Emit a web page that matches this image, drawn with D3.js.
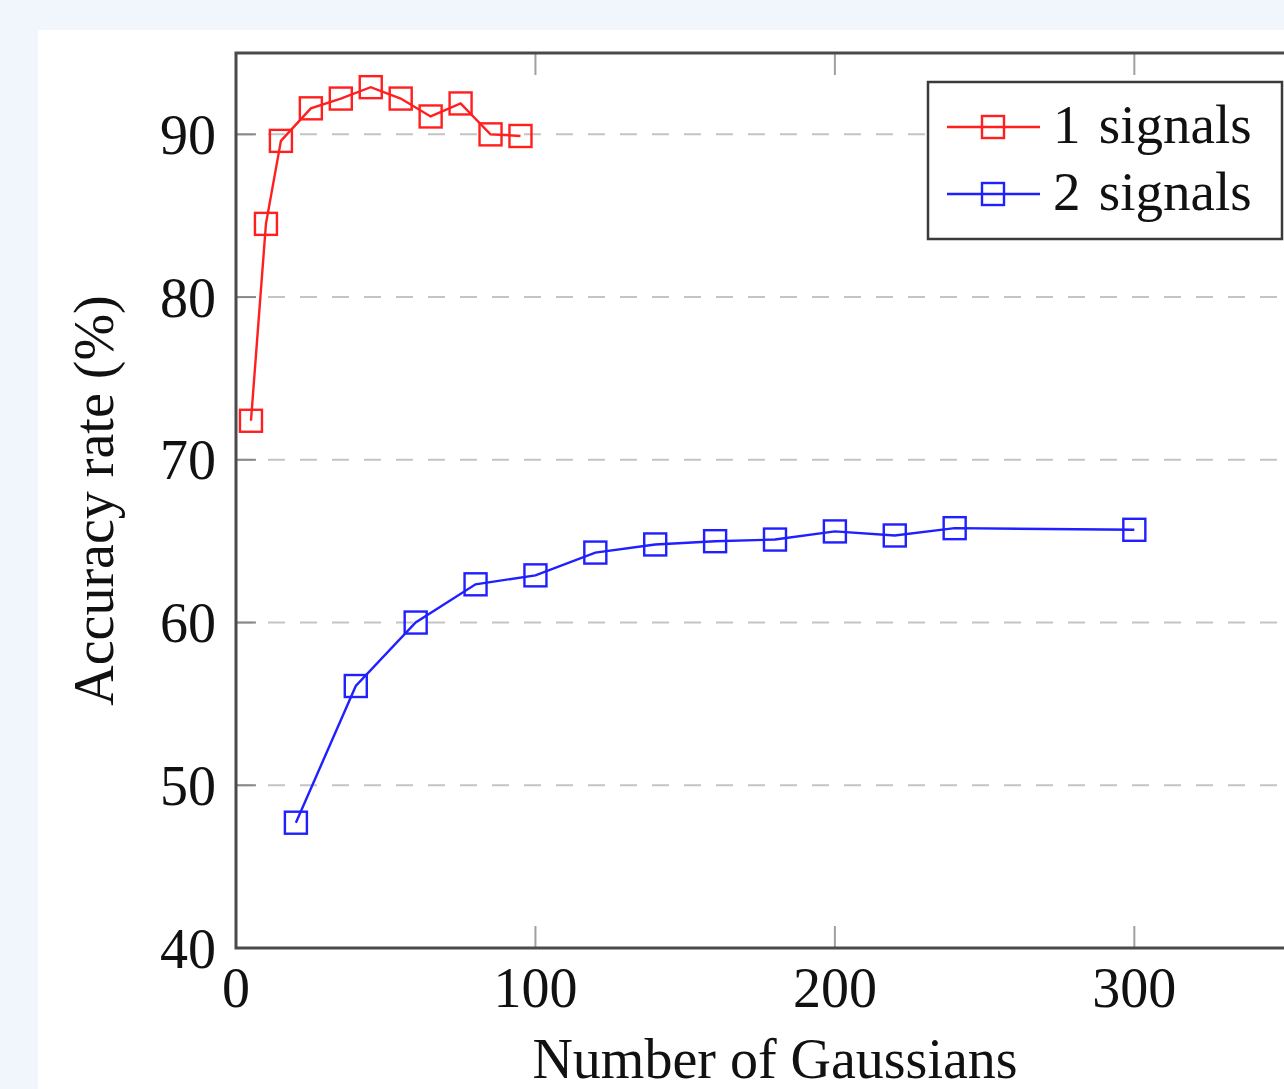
<!DOCTYPE html>
<html>
<head>
<meta charset="utf-8">
<script src="https://cdnjs.cloudflare.com/ajax/libs/d3/7.8.5/d3.min.js"></script>
<style>
  body { margin: 0; background: #f1f6fd; overflow: hidden; }
</style>
</head>
<body>
<script>
// data
var gaussians1 = [5, 10, 15, 25, 35, 45, 55, 65, 75, 85, 95];
var accuracy1 = [72.4, 84.5, 89.6, 91.6, 92.2, 92.9, 92.2, 91.1, 91.9, 90.0, 89.9];

var gaussians2 = [20, 40, 60, 80, 100, 120, 140, 160, 180, 200, 220, 240, 300];
var accuracy2 = [47.7, 56.1, 60.0, 62.35, 62.9, 64.3, 64.8, 65.0, 65.1, 65.6, 65.35, 65.8, 65.7];

var xTicks = [0, 100, 200, 300];
var yTicks = [40, 50, 60, 70, 80, 90];
var seriesNames = ["1 signals", "2 signals"];
var seriesColors = ["#ff1f1f", "#1f1fff"];

// set up
var W = 1284, H = 1089;
var plotLeft = 236, plotTop = 53, plotBottom = 948, plotRight = 1314;
var font = "'Liberation Serif', 'DejaVu Serif', serif";

var x = d3.scaleLinear().domain([0, 360]).range([plotLeft, plotRight]);
var y = d3.scaleLinear().domain([40, 95]).range([plotBottom, plotTop]);

var svg = d3.select("body")
    .append("svg")
    .attr("width", W)
    .attr("height", H);

// white page area
svg.append("rect")
    .attr("x", 38)
    .attr("y", 30)
    .attr("width", W - 38)
    .attr("height", H - 30)
    .style("fill", "#ffffff");

// dashed grid
svg.selectAll(".grid")
    .data(yTicks.filter(function(d) { return d > 40; }))
    .enter()
    .append("line")
    .attr("class", "grid")
    .attr("x1", plotLeft)
    .attr("x2", plotRight)
    .attr("y1", function(d) { return y(d); })
    .attr("y2", function(d) { return y(d); })
    .style("stroke", "#c4c4c4")
    .style("stroke-width", 2)
    .style("stroke-dasharray", "17,15");

// inner ticks (left, top, bottom)
svg.selectAll(".ytick")
    .data(yTicks)
    .enter()
    .append("line")
    .attr("x1", plotLeft)
    .attr("x2", plotLeft + 20)
    .attr("y1", function(d) { return y(d); })
    .attr("y2", function(d) { return y(d); })
    .style("stroke", "#8a8a8a")
    .style("stroke-width", 2);

svg.selectAll(".xtickTop")
    .data(xTicks.slice(1))
    .enter()
    .append("line")
    .attr("x1", function(d) { return x(d); })
    .attr("x2", function(d) { return x(d); })
    .attr("y1", plotTop)
    .attr("y2", plotTop + 22)
    .style("stroke", "#a0a0a0")
    .style("stroke-width", 2);

svg.selectAll(".xtickBottom")
    .data(xTicks.slice(1))
    .enter()
    .append("line")
    .attr("x1", function(d) { return x(d); })
    .attr("x2", function(d) { return x(d); })
    .attr("y1", plotBottom)
    .attr("y2", plotBottom - 22)
    .style("stroke", "#a0a0a0")
    .style("stroke-width", 2);

// frame
svg.append("rect")
    .attr("x", plotLeft)
    .attr("y", plotTop)
    .attr("width", plotRight - plotLeft)
    .attr("height", plotBottom - plotTop)
    .style("fill", "none")
    .style("stroke", "#4a4a4a")
    .style("stroke-width", 3);

// tick labels
svg.selectAll(".ylabel")
    .data(yTicks)
    .enter()
    .append("text")
    .attr("x", plotLeft - 20)
    .attr("y", function(d) { return y(d); })
    .attr("dy", "0.35em")
    .style("text-anchor", "end")
    .style("font-family", font)
    .style("font-size", "56px")
    .style("fill", "#111")
    .text(function(d) { return d; });

svg.selectAll(".xlabel")
    .data(xTicks)
    .enter()
    .append("text")
    .attr("x", function(d) { return x(d); })
    .attr("y", 1007)
    .style("text-anchor", "middle")
    .style("font-family", font)
    .style("font-size", "56px")
    .style("fill", "#111")
    .text(function(d) { return d; });

// axis titles
svg.append("text")
    .attr("x", (plotLeft + plotRight) / 2)
    .attr("y", 1078)
    .style("text-anchor", "middle")
    .style("font-family", font)
    .style("font-size", "56px")
    .style("fill", "#111")
    .text("Number of Gaussians");

svg.append("text")
    .attr("transform", "translate(113," + ((plotTop + plotBottom) / 2) + ") rotate(-90)")
    .style("text-anchor", "middle")
    .style("font-family", font)
    .style("font-size", "56px")
    .style("fill", "#111")
    .text("Accuracy rate (%)");

// series
var line = d3.line()
    .x(function(d) { return x(d[0]); })
    .y(function(d) { return y(d[1]); });

var series = [d3.zip(gaussians1, accuracy1), d3.zip(gaussians2, accuracy2)];
var side = 22;

series.forEach(function(pts, i) {
    svg.append("path")
        .datum(pts)
        .attr("d", line)
        .style("fill", "none")
        .style("stroke", seriesColors[i])
        .style("stroke-width", 2.4);

    svg.selectAll(".mark" + i)
        .data(pts)
        .enter()
        .append("rect")
        .attr("x", function(d) { return x(d[0]) - side / 2; })
        .attr("y", function(d) { return y(d[1]) - side / 2; })
        .attr("width", side)
        .attr("height", side)
        .style("fill", "none")
        .style("stroke", seriesColors[i])
        .style("stroke-width", 2.4);
});

// legend
svg.append("rect")
    .attr("x", 928)
    .attr("y", 82)
    .attr("width", 354)
    .attr("height", 157)
    .style("fill", "#ffffff")
    .style("stroke", "#3a3a3a")
    .style("stroke-width", 2.5);

seriesNames.forEach(function(name, i) {
    var ly = 127 + i * 67;
    svg.append("line")
        .attr("x1", 947)
        .attr("x2", 1040)
        .attr("y1", ly)
        .attr("y2", ly)
        .style("stroke", seriesColors[i])
        .style("stroke-width", 2.4);
    svg.append("rect")
        .attr("x", 993 - side / 2)
        .attr("y", ly - side / 2)
        .attr("width", side)
        .attr("height", side)
        .style("fill", "none")
        .style("stroke", seriesColors[i])
        .style("stroke-width", 2.4);
    svg.append("text")
        .attr("x", 1053)
        .attr("y", ly + 16)
        .style("font-family", font)
        .style("font-size", "55px")
        .style("fill", "#111")
        .text(name.replace(" ", "\u2004"));
});
</script>
</body>
</html>
